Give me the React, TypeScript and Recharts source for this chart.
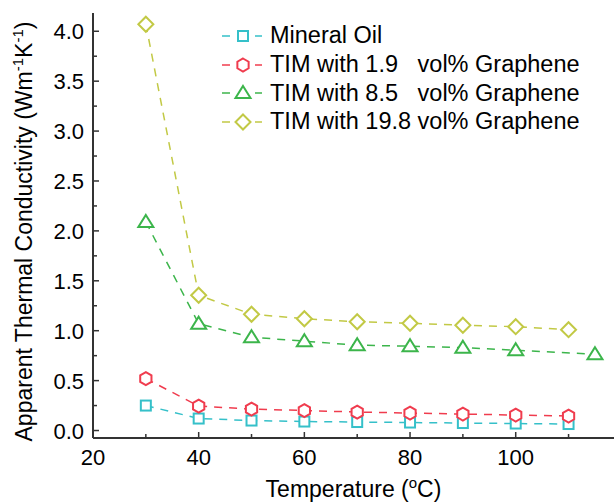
import { Legend, Line, LineChart, XAxis, YAxis } from 'recharts';

const FONT = '"Liberation Sans", Arial, sans-serif';
const AXIS = '#333333';

// temperatures (°C) and apparent thermal conductivity (W m^-1 K^-1)
const temps = [30, 40, 50, 60, 70, 80, 90, 100, 110];
const tempsGreen = [30, 40, 50, 60, 70, 80, 90, 100, 115];
const mineralOil = [0.25, 0.12, 0.1, 0.09, 0.085, 0.08, 0.075, 0.07, 0.065];
const tim19 = [0.52, 0.245, 0.215, 0.2, 0.185, 0.175, 0.165, 0.155, 0.145];
const tim85 = [2.09, 1.07, 0.935, 0.895, 0.855, 0.845, 0.83, 0.805, 0.765];
const tim198 = [4.07, 1.355, 1.165, 1.12, 1.09, 1.075, 1.055, 1.04, 1.01];

const xTicks = [20, 30, 40, 50, 60, 70, 80, 90, 100, 110];
const yTicks = [0, 0.25, 0.5, 0.75, 1, 1.25, 1.5, 1.75, 2, 2.25, 2.5, 2.75, 3, 3.25, 3.5, 3.75, 4];

type Shape = 'square' | 'hexagon' | 'triangle' | 'diamond';

const series: { key: string; label: string; color: string; shape: Shape; xs: number[]; ys: number[] }[] = [
  { key: 'oil', label: 'Mineral Oil', color: '#35c0c9', shape: 'square', xs: temps, ys: mineralOil },
  { key: 'g19', label: 'TIM with 1.9   vol% Graphene', color: '#f03c4e', shape: 'hexagon', xs: temps, ys: tim19 },
  { key: 'g85', label: 'TIM with 8.5   vol% Graphene', color: '#3cb54b', shape: 'triangle', xs: tempsGreen, ys: tim85 },
  { key: 'g198', label: 'TIM with 19.8 vol% Graphene', color: '#c2c945', shape: 'diamond', xs: temps, ys: tim198 },
];

function Marker({ shape, cx, cy, color }: { shape: Shape; cx: number; cy: number; color: string }) {
  const common = { fill: '#ffffff', stroke: color, strokeWidth: 2 };
  if (shape === 'square') return <rect x={cx - 5} y={cy - 5} width={10} height={10} {...common} />;
  if (shape === 'hexagon') {
    const r = 6.5;
    const pts = [-90, -30, 30, 90, 150, 210]
      .map((a) => `${cx + r * Math.cos((a * Math.PI) / 180)},${cy + r * Math.sin((a * Math.PI) / 180)}`)
      .join(' ');
    return <polygon points={pts} {...common} />;
  }
  if (shape === 'triangle')
    return <polygon points={`${cx},${cy - 7} ${cx + 7.5},${cy + 5} ${cx - 7.5},${cy + 5}`} {...common} />;
  return <polygon points={`${cx},${cy - 7.5} ${cx + 7.5},${cy} ${cx},${cy + 7.5} ${cx - 7.5},${cy}`} {...common} />;
}

function YTick({ x, y, payload }: any) {
  const v = payload.value as number;
  const major = Math.abs(v * 2 - Math.round(v * 2)) < 1e-6;
  return (
    <g>
      <line x1={x} x2={x + (major ? 6 : 4)} y1={y} y2={y} stroke={AXIS} strokeWidth={1.5} />
      {major && (
        <text x={x - 9} y={y + 8} textAnchor="end" fontFamily={FONT} fontSize={22} fill="#000">
          {v.toFixed(1)}
        </text>
      )}
    </g>
  );
}

function XTick({ x, y, payload }: any) {
  const v = payload.value as number;
  const major = v % 20 === 0;
  return (
    <g>
      <line x1={x} x2={x} y1={y} y2={y - (major ? 6 : 4)} stroke={AXIS} strokeWidth={1.5} />
      {major && (
        <text x={x} y={y + 27} textAnchor="middle" fontFamily={FONT} fontSize={22} fill="#000">
          {v}
        </text>
      )}
    </g>
  );
}

function YTitle({ viewBox }: any) {
  const cx = 32;
  const cy = viewBox.y + viewBox.height / 2 + 6;
  return (
    <text x={cx} y={cy} transform={`rotate(-90 ${cx} ${cy})`} textAnchor="middle" fontFamily={FONT} fontSize={23} fill="#000">
      Apparent Thermal Conductivity (Wm
      <tspan fontSize={15} dy={-9}>-1</tspan>
      <tspan dy={9}>K</tspan>
      <tspan fontSize={15} dy={-9}>-1</tspan>
      <tspan dy={9}>)</tspan>
    </text>
  );
}

function XTitle({ viewBox }: any) {
  const cx = viewBox.x + viewBox.width / 2;
  return (
    <text x={cx} y={497} textAnchor="middle" fontFamily={FONT} fontSize={23} fill="#000">
      Temperature (
      <tspan fontSize={15} dy={-9}>o</tspan>
      <tspan dy={9}>C)</tspan>
    </text>
  );
}

function LegendBox() {
  return (
    <div style={{ fontFamily: FONT, fontSize: 23.5, color: '#000' }}>
      {series.map((s) => (
        <div key={s.key} style={{ display: 'flex', alignItems: 'center', height: 28.7 }}>
          <svg width={40} height={28} style={{ marginRight: 8, flex: 'none' }}>
            <line x1={0} x2={8} y1={14} y2={14} stroke={s.color} strokeWidth={1.5} />
            <line x1={33} x2={40} y1={14} y2={14} stroke={s.color} strokeWidth={1.5} />
            <Marker shape={s.shape} cx={21} cy={14} color={s.color} />
          </svg>
          <span style={{ whiteSpace: 'pre' }}>{s.label}</span>
        </div>
      ))}
    </div>
  );
}

export default function App() {
  return (
    <div style={{ position: 'absolute', left: 0, top: 0, width: 614, height: 504, background: '#fff' }}>
      <LineChart width={614} height={504} margin={{ top: 13, right: 0, bottom: 0, left: 0 }}>
        <XAxis
          dataKey="t"
          type="number"
          domain={[20, 118.6]}
          allowDataOverflow
          ticks={xTicks}
          interval={0}
          height={66}
          tickSize={0}
          tickMargin={0}
          tickLine={false}
          axisLine={{ stroke: AXIS, strokeWidth: 2 }}
          tick={<XTick />}
          label={<XTitle />}
        />
        <XAxis
          xAxisId="top"
          orientation="top"
          dataKey="t"
          type="number"
          domain={[20, 118.6]}
          allowDataOverflow
          height={0}
          tick={false}
          tickLine={false}
          axisLine={{ stroke: AXIS, strokeWidth: 2 }}
        />
        <YAxis
          type="number"
          domain={[-0.075, 4.183]}
          allowDataOverflow
          ticks={yTicks}
          interval={0}
          width={93}
          tickSize={0}
          tickMargin={0}
          tickLine={false}
          axisLine={{ stroke: AXIS, strokeWidth: 2 }}
          tick={<YTick />}
          label={<YTitle />}
        />
        <Legend
          layout="vertical"
          align="center"
          verticalAlign="middle"
          content={() => <LegendBox />}
          wrapperStyle={{ left: 222, top: 21.5, width: 392, height: 116 }}
        />
        {series.map((s) => (
          <Line
            key={s.key}
            data={s.xs.map((t, i) => ({ t, k: s.ys[i] }))}
            dataKey="k"
            name={s.label}
            stroke={s.color}
            strokeWidth={1.5}
            strokeDasharray="8 7"
            dot={(p: any) => <Marker key={`${s.key}-${p.index}`} shape={s.shape} cx={p.cx} cy={p.cy} color={s.color} />}
            activeDot={false}
            isAnimationActive={false}
          />
        ))}
      </LineChart>
    </div>
  );
}
